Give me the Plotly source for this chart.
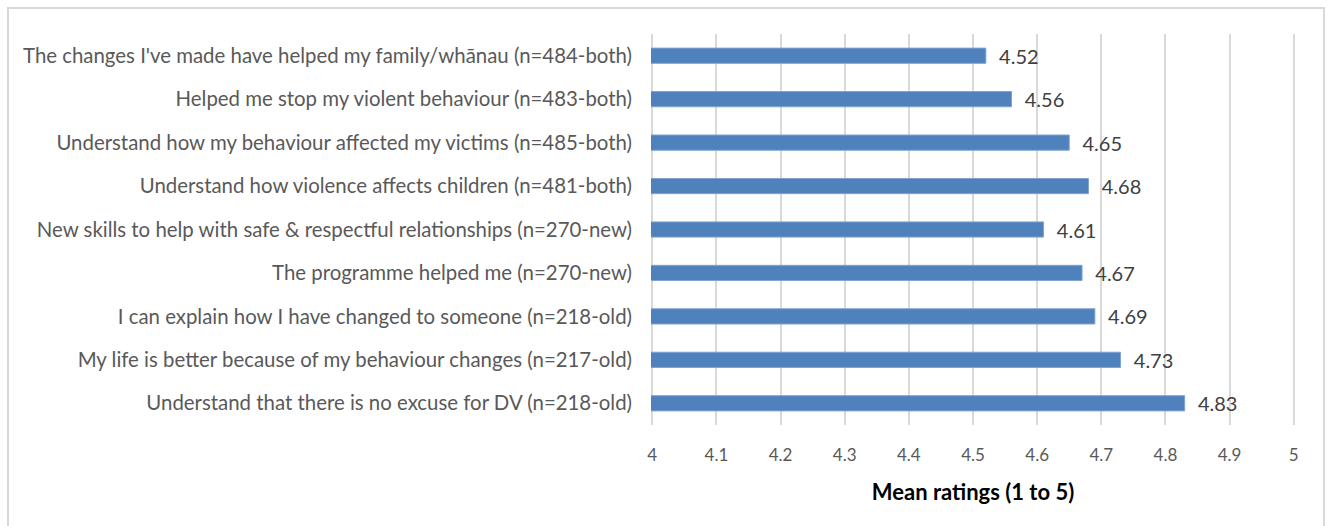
import plotly.graph_objects as go

categories = [
    "The changes I've made have helped my family/whānau (n=484-both)",
    "Helped me stop my violent behaviour (n=483-both)",
    "Understand how my behaviour affected my victims (n=485-both)",
    "Understand how violence affects children (n=481-both)",
    "New skills to help with safe & respectful relationships (n=270-new)",
    "The programme helped me (n=270-new)",
    "I can explain how I have changed to someone (n=218-old)",
    "My life is better because of my behaviour changes (n=217-old)",
    "Understand that there is no excuse for DV (n=218-old)",
]
values = [4.52, 4.56, 4.65, 4.68, 4.61, 4.67, 4.69, 4.73, 4.83]
tick_vals = [4, 4.1, 4.2, 4.3, 4.4, 4.5, 4.6, 4.7, 4.8, 4.9, 5]
tick_text = ["4", "4.1", "4.2", "4.3", "4.4", "4.5", "4.6", "4.7", "4.8", "4.9", "5"]
x_title = "Mean ratings (1 to 5)"

W, H = 1330, 526
ml, mr, mt, mb = 651, 35, 34, 101
FONT = "Lato"

fig = go.Figure()
fig.add_trace(go.Bar(
    y=categories, x=values, orientation="h",
    marker=dict(color="#4F81BD", line=dict(color="#7FA3D0", width=1)),
    width=0.35, showlegend=False, hoverinfo="x+y",
    text=["\u00a0\u00a0" + f"{v:.2f}" for v in values],
    textposition="outside", constraintext="none", cliponaxis=False,
    textfont=dict(family=FONT, size=20, color="#404040"),
))

pw = W - ml - mr
ph = H - mt - mb
fig.add_shape(type="rect", xref="paper", yref="paper",
              x0=(8 - ml) / pw, x1=(1324 - ml) / pw,
              y0=-(H + 10 - (H - mb)) / ph, y1=(H - mb - 8) / ph,
              line=dict(color="#D9D9D9", width=2), fillcolor="rgba(0,0,0,0)", layer="below")

fig.update_layout(
    width=W, height=H, margin=dict(l=ml, r=mr, t=mt, b=mb, pad=0),
    paper_bgcolor="white", plot_bgcolor="white",
    font=dict(family=FONT, color="#595959"),
    xaxis=dict(range=[3.998, 5.002], tickvals=tick_vals, ticktext=tick_text,
               showgrid=True, gridcolor="#D9D9D9", gridwidth=2,
               zeroline=False, showline=False, ticks="",
               tickfont=dict(family=FONT, size=17, color="#595959"),
               ticklabelstandoff=18,
               title=dict(text="<b>" + x_title + "</b>",
                          font=dict(family=FONT, size=22, color="#000000"),
                          standoff=20)),
    yaxis=dict(categoryorder="array", categoryarray=categories[::-1],
               range=[-0.5, 8.5],
               showgrid=False, zeroline=False, showline=False, ticks="",
               tickfont=dict(family=FONT, size=20.4, color="#595959"),
               ticklabelstandoff=18),
)
fig.write_html("out.html")
